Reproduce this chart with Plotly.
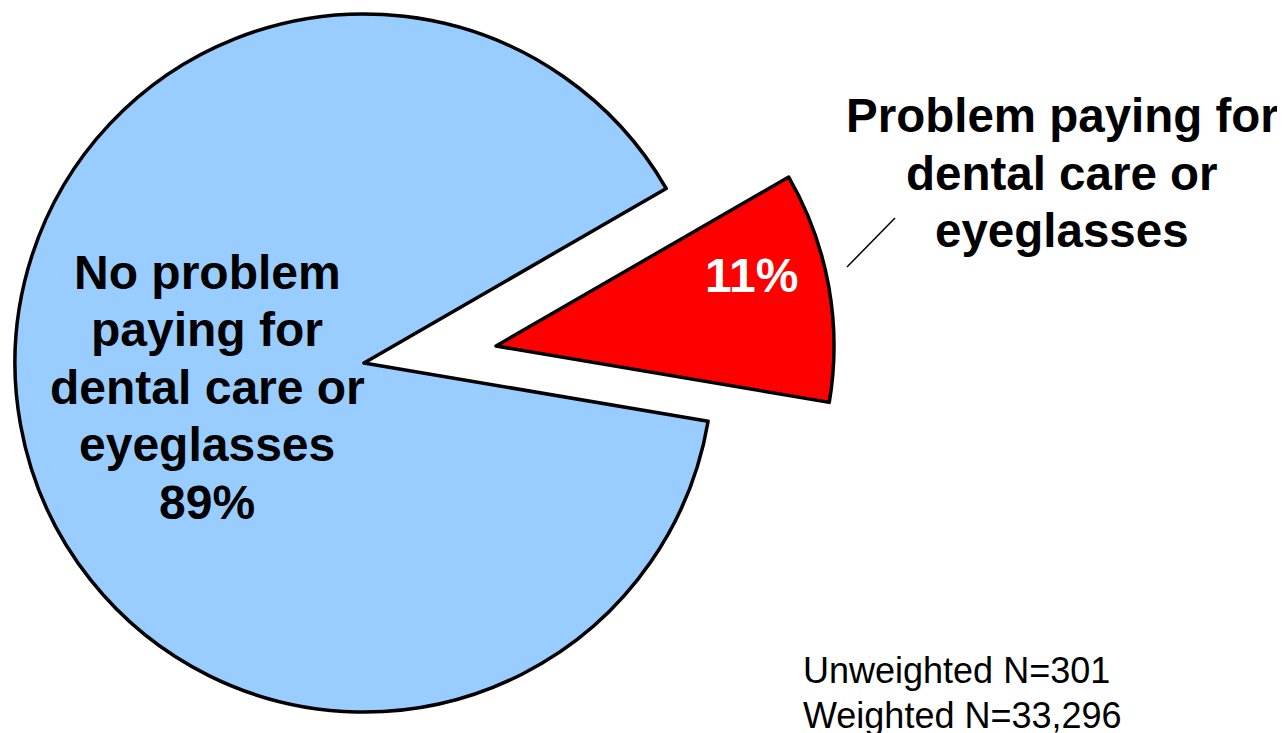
import plotly.graph_objects as go

# ---- data ----
categories = ["Problem paying for dental care or eyeglasses",
              "No problem paying for dental care or eyeglasses"]
shares = [11, 89]
slice_colors = ["#FF0000", "#99CCFF"]
main_label_lines = ["No problem", "paying for", "dental care or", "eyeglasses", "89%"]
side_label_lines = ["Problem paying for", "dental care or", "eyeglasses"]
inner_pct = "11%"
note_lines = ["Unweighted N=301", "Weighted N=33,296"]

W, H = 1285, 733
OX, OY = 8, 8   # page body margin
CLEAR = "rgba(0,0,0,0)"


def fx(sx):
    return (sx - OX) / W


def fy(sy):
    return 1 - (sy - OY) / H


def px_dom(cx, cy, r):
    return dict(x=[max(0, fx(cx - r)), min(1, fx(cx + r))],
                y=[max(0, fy(cy + r)), min(1, fy(cy - r))])


fig = go.Figure()
# large slice (stays in place)
fig.add_trace(go.Pie(
    labels=categories, values=shares, sort=False, direction="clockwise",
    rotation=60, textinfo="none", hoverinfo="label+percent",
    marker=dict(colors=[CLEAR, slice_colors[1]],
                line=dict(color="black", width=[0, 3.5])),
    domain=px_dom(364, 363, 349), showlegend=False))
# exploded small slice
fig.add_trace(go.Pie(
    labels=categories, values=shares, sort=False, direction="clockwise",
    rotation=60, textinfo="none", hoverinfo="label+percent",
    marker=dict(colors=[slice_colors[0], CLEAR],
                line=dict(color="black", width=[3.5, 0])),
    domain=px_dom(496, 346, 338), showlegend=False))

FONT_B = "Liberation Sans, Arial, sans-serif"
ann = []
for i, t in enumerate(main_label_lines):
    ann.append(dict(text=f"<b>{t}</b>", x=fx(207), y=fy(272 + 57.5 * i),
                    xref="paper", yref="paper", showarrow=False,
                    xanchor="center", yanchor="middle",
                    font=dict(family=FONT_B, size=48, color="black")))
for i, t in enumerate(side_label_lines):
    ann.append(dict(text=f"<b>{t}</b>", x=fx(1062), y=fy(116 + 57.5 * i),
                    xref="paper", yref="paper", showarrow=False,
                    xanchor="center", yanchor="middle",
                    font=dict(family=FONT_B, size=47.5, color="black")))
ann.append(dict(text=f"<b>{inner_pct}</b>", x=fx(751), y=fy(275),
                xref="paper", yref="paper", showarrow=False,
                xanchor="center", yanchor="middle",
                font=dict(family=FONT_B, size=48, color="white")))
for i, t in enumerate(note_lines):
    ann.append(dict(text=t, x=fx(801), y=fy(670 + 45 * i),
                    xref="paper", yref="paper", showarrow=False,
                    xanchor="left", yanchor="middle",
                    font=dict(family=FONT_B, size=36, color="black")))

fig.update_layout(
    width=W, height=H, margin=dict(l=0, r=0, t=0, b=0),
    paper_bgcolor="white", plot_bgcolor="white",
    annotations=ann,
    shapes=[dict(type="line", xref="paper", yref="paper",
                 x0=fx(847), y0=fy(267), x1=fx(895), y1=fy(218),
                 line=dict(color="black", width=1.5))],
)
fig.write_html("out.html")
